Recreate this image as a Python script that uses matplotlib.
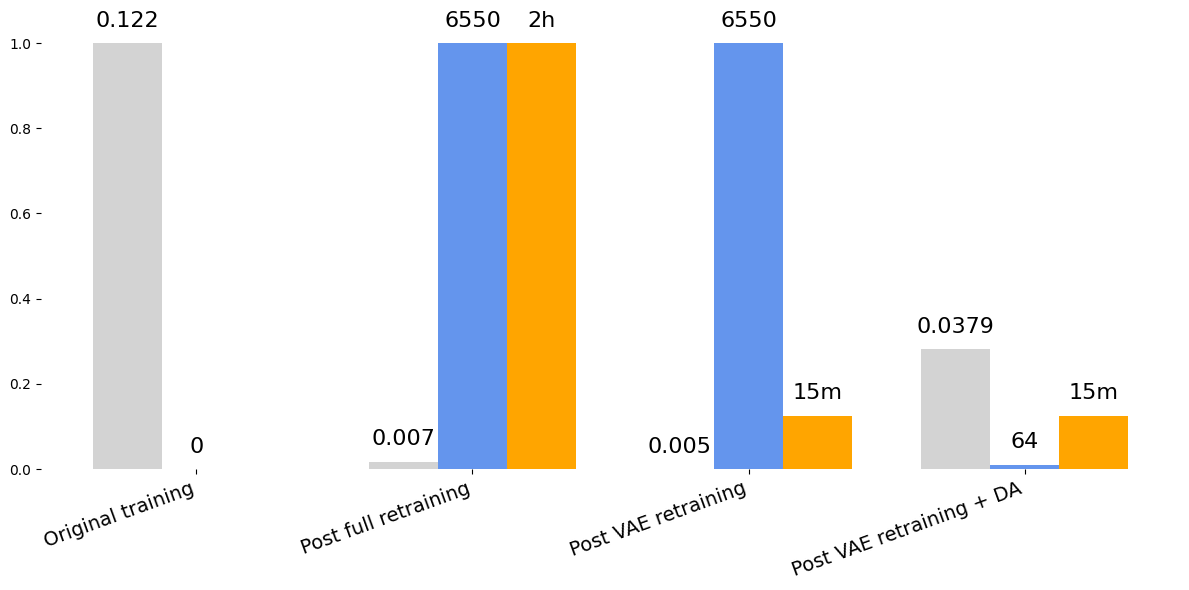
import matplotlib.pyplot as plt
import numpy as np

# данные
groups = ["Original training", "Post full retraining", "Post VAE retraining", "Post VAE retraining + DA"]
loss_vals = [0.122, 0.007, 0.005, 0.0379]
loss_labels = ["0.122", "0.007", "0.005", "0.0379"]
samples_vals = [0, 6550, 6550, 64]
samples_labels = ["0", "6550", "6550", "64"]
time_minutes = [None, 120, 15, 15]
time_labels = [None, "2h", "15m", "15m"]

# нормализация
lo, hi = min(loss_vals), max(loss_vals)
loss_norm = [(v - lo) / (hi - lo) for v in loss_vals]
samples_norm = [v / max(samples_vals) for v in samples_vals]
tmax = max(t for t in time_minutes if t is not None)
time_norm = [np.nan if t is None else t / tmax for t in time_minutes]

x = np.arange(len(groups))
w = 0.25

fig, ax = plt.subplots(figsize=(11.89, 5.9), dpi=100)
series = [
    (x - w, loss_norm, loss_labels, "lightgray"),
    (x, samples_norm, samples_labels, "cornflowerblue"),
    (x + w, time_norm, time_labels, "orange"),
]
for pos, heights, labels, color in series:
    ax.bar(pos, heights, width=w, color=color)
    for xi, h, lab in zip(pos, heights, labels):
        if lab is None:
            continue
        ax.annotate(lab, (xi, h), xytext=(0, 9), textcoords="offset points",
                    ha="center", va="bottom", fontsize=16)

ax.set_xticks(x)
ax.set_xticklabels(groups, rotation=20, ha="right", fontsize=14)
for s in ax.spines.values():
    s.set_visible(False)

plt.subplots_adjust(left=0.0345, right=0.9924, top=0.963, bottom=0.205)
plt.savefig("out.png")
